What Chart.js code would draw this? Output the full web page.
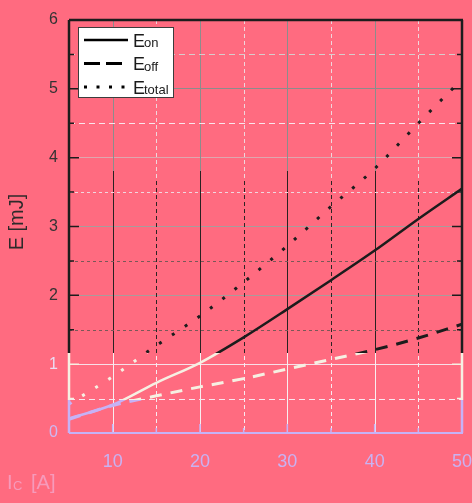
<!DOCTYPE html>
<html lang="en">
<head>
  <meta charset="UTF-8">
  <title>Switching energy vs. collector current</title>
  <script src="https://cdn.jsdelivr.net/npm/chart.js"></script>
  <style>
    body {
      margin: 0;
      background: #ff6b80;
    }
    #wrap {
      width: 472px;
      height: 503px;
    }
  </style>
</head>
<body>
  <div id="wrap">
    <canvas id="energyChart" width="472" height="503"></canvas>
  </div>

  <script>
    // collector current I_C [A]
    const currents = [5, 10, 15, 20, 25, 30, 35, 40, 45, 50];
    // switching energies [mJ]
    const eOn = [0.21, 0.41, 0.73, 1.02, 1.39, 1.80, 2.22, 2.65, 3.11, 3.55];
    const eOff = [0.20, 0.40, 0.54, 0.67, 0.79, 0.93, 1.07, 1.21, 1.38, 1.58];
    const eTotal = [0.42, 0.82, 1.27, 1.70, 2.19, 2.72, 3.29, 3.84, 4.50, 5.14];

    const xTicks = [10, 20, 30, 40, 50];
    const yTicks = [0, 1, 2, 3, 4, 5, 6];
    const xMinor = [15, 25, 35, 45];
    const yMinor = [0.5, 1.5, 2.5, 3.5, 4.5, 5.5];

    const FONT = '"Liberation Sans", Arial, sans-serif';
    const DARK = '#1c1c1c';
    const CREAM = '#f6f0e2';
    const LAVENDER = '#c6b2f6';

    // vertical colour bands: colors[i] applies above cuts[i], last one below all cuts
    function bandGradient(chart, colors, cuts) {
      const { ctx, chartArea, scales } = chart;
      const top = chartArea.top - 6, bottom = chartArea.bottom + 6;
      const g = ctx.createLinearGradient(0, top, 0, bottom);
      let prev = 0;
      cuts.forEach((v, i) => {
        const t = (scales.y.getPixelForValue(v) - top) / (bottom - top);
        g.addColorStop(prev, colors[i]);
        g.addColorStop(t, colors[i]);
        prev = t;
      });
      g.addColorStop(prev, colors[colors.length - 1]);
      g.addColorStop(1, colors[colors.length - 1]);
      return g;
    }

    function lineColor(context) {
      const chart = context.chart;
      if (!chart.chartArea) return DARK;
      return bandGradient(chart, [DARK, CREAM, LAVENDER], [1.16, 0.48]);
    }

    function toPoints(ys) {
      return currents.map((x, i) => ({ x: x, y: ys[i] }));
    }

    const framePlugin = {
      id: 'frame',
      beforeDatasetsDraw(chart) {
        const { ctx, chartArea: a, scales } = chart;
        const xs = scales.x, ys = scales.y;
        ctx.save();
        ctx.lineWidth = 1;

        // major vertical grid
        ctx.strokeStyle = bandGradient(chart, ['#8c8c8c', '#2a2222', '#f8eef0'], [3.8, 1.16]);
        ctx.beginPath();
        xTicks.forEach(v => {
          const px = Math.round(xs.getPixelForValue(v)) + 0.5;
          ctx.moveTo(px, a.top);
          ctx.lineTo(px, a.bottom);
        });
        ctx.stroke();

        // minor dashed grid
        ctx.strokeStyle = bandGradient(chart, ['#f0d6dc', '#2e2424', '#f8eaf0'], [3.7, 1.16]);
        ctx.setLineDash([4, 3]);
        ctx.beginPath();
        xMinor.forEach(v => {
          const px = Math.round(xs.getPixelForValue(v)) + 0.5;
          ctx.moveTo(px, a.top);
          ctx.lineTo(px, a.bottom);
        });
        ctx.stroke();
        const minorStyle = {
          0.5: ['#f8e6ee', [6, 4]],
          1.5: ['#7a5858', [3, 3]],
          2.5: ['#7a5858', [3, 3]],
          3.5: ['#f0d6de', [3, 3]],
          4.5: ['#f8e6ec', [6, 4]],
          5.5: ['#d8cccc', [6, 4]]
        };
        yMinor.forEach(v => {
          const py = Math.round(ys.getPixelForValue(v)) + 0.5;
          ctx.strokeStyle = minorStyle[v][0];
          ctx.setLineDash(minorStyle[v][1]);
          ctx.beginPath();
          ctx.moveTo(a.left, py);
          ctx.lineTo(a.right, py);
          ctx.stroke();
        });
        ctx.setLineDash([]);

        // inward tick marks
        const tickGrad = bandGradient(chart, [DARK, CREAM, LAVENDER], [1.16, 0.48]);
        ctx.strokeStyle = tickGrad;
        ctx.lineWidth = 1.5;
        ctx.beginPath();
        yTicks.concat(yMinor).forEach(v => {
          const len = Number.isInteger(v) ? 10 : 5;
          const py = ys.getPixelForValue(v);
          ctx.moveTo(a.left, py);
          ctx.lineTo(a.left + len, py);
          ctx.moveTo(a.right, py);
          ctx.lineTo(a.right - len, py);
        });
        ctx.stroke();
        ctx.strokeStyle = LAVENDER;
        ctx.beginPath();
        xTicks.concat(xMinor).forEach(v => {
          const len = v % 10 === 0 ? 9 : 5;
          const px = xs.getPixelForValue(v);
          ctx.moveTo(px, a.bottom);
          ctx.lineTo(px, a.bottom - len);
        });
        ctx.stroke();

        // frame
        ctx.lineWidth = 2.5;
        ctx.strokeStyle = tickGrad;
        ctx.beginPath();
        ctx.moveTo(a.left, a.top);
        ctx.lineTo(a.left, a.bottom);
        ctx.moveTo(a.right, a.top);
        ctx.lineTo(a.right, a.bottom);
        ctx.stroke();
        ctx.strokeStyle = DARK;
        ctx.beginPath();
        ctx.moveTo(a.left, a.top);
        ctx.lineTo(a.right + 1, a.top);
        ctx.stroke();
        ctx.strokeStyle = LAVENDER;
        ctx.lineWidth = 2;
        ctx.beginPath();
        ctx.moveTo(a.left, a.bottom);
        ctx.lineTo(a.right + 1, a.bottom);
        ctx.stroke();
        ctx.restore();
      },
      afterDatasetsDraw(chart) {
        const { ctx, chartArea: a } = chart;
        ctx.save();

        // legend box
        const lx = a.left + 9, ly = a.top + 7;
        ctx.fillStyle = '#ffffff';
        ctx.fillRect(lx, ly, 95, 70);
        ctx.strokeStyle = '#3c3c3c';
        ctx.lineWidth = 1;
        ctx.strokeRect(lx + 0.5, ly + 0.5, 95, 70);

        const entries = [
          { sub: 'on', dash: [], width: 2.5 },
          { sub: 'off', dash: [16, 6], width: 3 },
          { sub: 'total', dash: [3, 9.5], width: 3 }
        ];
        entries.forEach((e, i) => {
          const y = ly + 13 + i * 23.5;
          ctx.strokeStyle = '#000';
          ctx.lineWidth = e.width;
          ctx.setLineDash(e.dash);
          ctx.beginPath();
          ctx.moveTo(lx + 6, y);
          ctx.lineTo(lx + 50, y);
          ctx.stroke();
          ctx.setLineDash([]);
          ctx.fillStyle = '#1a1a1a';
          ctx.textBaseline = 'alphabetic';
          ctx.textAlign = 'left';
          ctx.font = '18px ' + FONT;
          ctx.fillText('E', lx + 55, y + 6.5);
          ctx.font = '13px ' + FONT;
          ctx.fillText(e.sub, lx + 66, y + 7);
        });

        // y axis title
        ctx.fillStyle = '#2e2a2a';
        ctx.font = '20px ' + FONT;
        ctx.translate(17, 222);
        ctx.rotate(-Math.PI / 2);
        ctx.textAlign = 'center';
        ctx.textBaseline = 'middle';
        ctx.fillText('E [mJ]', 0, 0);
        ctx.restore();

        // x axis title (faint)
        ctx.save();
        ctx.fillStyle = '#f69abb';
        ctx.textAlign = 'left';
        ctx.font = '20px ' + FONT;
        ctx.fillText('I', 7, 489);
        ctx.font = '13px ' + FONT;
        ctx.fillText('C', 13, 490);
        ctx.font = '20px ' + FONT;
        ctx.fillText('[A]', 31, 489);
        ctx.restore();
      }
    };

    const chart = new Chart(document.getElementById('energyChart'), {
      type: 'line',
      data: {
        datasets: [
          {
            label: 'Eon',
            data: toPoints(eOn),
            borderColor: lineColor,
            borderWidth: 2.5,
            pointRadius: 0,
            cubicInterpolationMode: 'monotone'
          },
          {
            label: 'Eoff',
            data: toPoints(eOff),
            borderColor: lineColor,
            borderWidth: 3,
            borderDash: [12, 9],
            pointRadius: 0,
            cubicInterpolationMode: 'monotone'
          },
          {
            label: 'Etotal',
            data: toPoints(eTotal),
            borderColor: lineColor,
            borderWidth: 3,
            borderDash: [3, 12.5],
            pointRadius: 0,
            cubicInterpolationMode: 'monotone'
          }
        ]
      },
      options: {
        responsive: false,
        animation: false,
        layout: { padding: { top: 20, right: 10, left: 0, bottom: 0 } },
        plugins: {
          legend: { display: false },
          tooltip: { enabled: false }
        },
        scales: {
          x: {
            type: 'linear',
            min: 5,
            max: 50,
            afterBuildTicks: s => { s.ticks = xTicks.map(v => ({ value: v })); },
            afterFit: s => {
              s.height = 70;
              s.paddingLeft = 0;
              s.paddingRight = 0;
            },
            border: { display: false },
            grid: { display: false },
            ticks: {
              padding: 10,
              color: '#c9b2f2',
              font: { family: FONT, size: 18 }
            }
          },
          y: {
            min: 0,
            max: 6,
            afterBuildTicks: s => { s.ticks = yTicks.map(v => ({ value: v })); },
            afterFit: s => {
              s.width = 69;
              s.paddingTop = 0;
              s.paddingBottom = 0;
            },
            border: { display: false },
            grid: {
              drawTicks: false,
              lineWidth: 1,
              color: c => {
                const v = c.tick ? c.tick.value : 0;
                if (v === 1) return '#f8dfe8';
                if (v === 4) return '#dea6ae';
                if (v === 5) return '#8c8c8c';
                return '#a89c9c';
              }
            },
            ticks: {
              padding: 11,
              color: c => c.tick.value === 0 ? '#cdb8f2' : (c.tick.value === 1 ? '#eadcf2' : '#333333'),
              font: { family: FONT, size: 16 }
            }
          }
        }
      },
      plugins: [framePlugin]
    });
  </script>
</body>
</html>
